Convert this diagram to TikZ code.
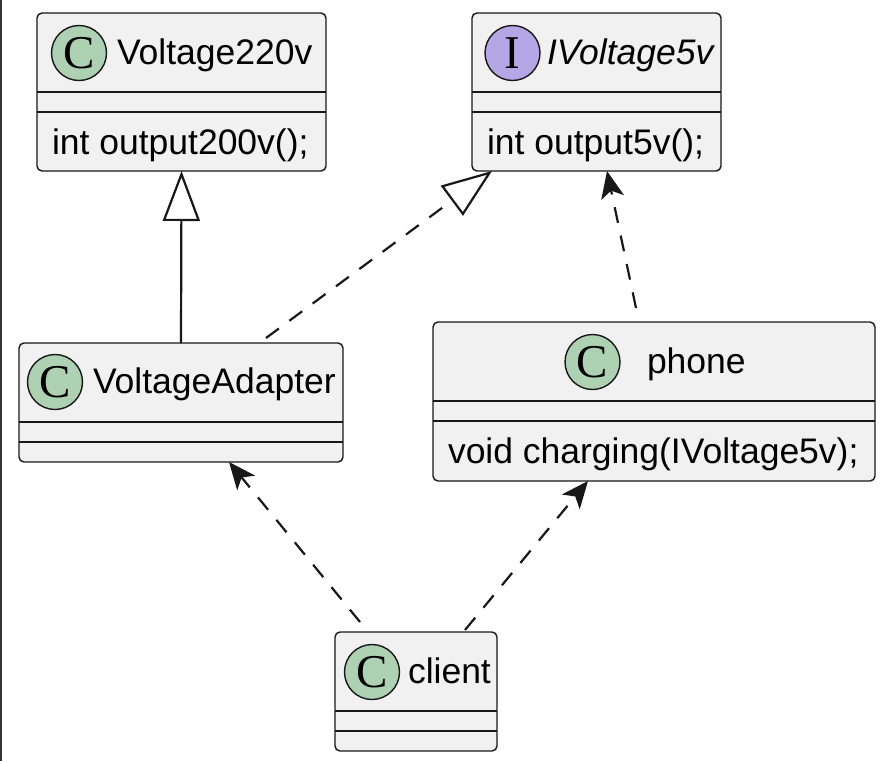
\documentclass[tikz,border=0pt]{standalone}
\usepackage{fontspec}
\setmainfont{Liberation Sans}
\newfontfamily\spotfont{Liberation Serif}
\usetikzlibrary{arrows.meta}
\definecolor{boxfill}{HTML}{F1F1F1}
\definecolor{boxline}{HTML}{181818}
\definecolor{spotgreen}{HTML}{ADD1B2}
\definecolor{spotviolet}{HTML}{B4A7E5}
\begin{document}
\begin{tikzpicture}[x=1pt, y=-1pt,
		every node/.style = {inner sep=0pt, outer sep=0pt},
		classbox/.style = {draw=boxline, fill=boxfill, line width=1.4pt, rounded corners=5pt},
		sepline/.style = {draw=boxline, line width=1.4pt},
		spot/.style = {circle, draw=boxline, line width=1.4pt, minimum size=55pt,
			font=\spotfont\fontsize{47}{47}\selectfont},
		txt/.style = {anchor=base west, font=\fontsize{35.5}{40}\selectfont},
		extends/.style = {draw=boxline, line width=2.2pt, -{Triangle[open, length=50pt, width=37pt, line width=2.2pt]}},
		realizes/.style = {extends, dash pattern=on 16pt off 13pt},
		uses/.style = {draw=boxline, line width=2.2pt, dash pattern=on 16pt off 13pt,
			-{Stealth[length=27pt, width=23pt, inset=7pt]}}]
	\useasboundingbox (0,0) rectangle (885,761);
	\draw[line width=2pt, color=black!80] (1,0) -- (1,761);

	\node[classbox, minimum width=289pt, minimum height=158pt] (v220) at (181.5,92) {};
	\node[spot, fill=spotgreen] (v220spot) at (79,53) {C};
	\node[txt] (v220name) at (117,64) {Voltage220v};
	\node[txt] (v220op) at (52,154) {int output200v();};
	\draw[sepline] ([yshift=-79pt]v220.north west) -- ([yshift=-79pt]v220.north east);
	\draw[sepline] ([yshift=-99pt]v220.north west) -- ([yshift=-99pt]v220.north east);

	\node[classbox, minimum width=249pt, minimum height=158pt] (iv5) at (596.5,92) {};
	\node[spot, fill=spotviolet] (iv5spot) at (512.5,53) {I};
	\node[txt, font=\fontsize{35.5}{40}\selectfont\itshape] (iv5name) at (547,64) {IVoltage5v};
	\node[txt] (iv5op) at (487,154) {int output5v();};
	\draw[sepline] ([yshift=-79pt]iv5.north west) -- ([yshift=-79pt]iv5.north east);
	\draw[sepline] ([yshift=-99pt]iv5.north west) -- ([yshift=-99pt]iv5.north east);

	\node[classbox, minimum width=324pt, minimum height=119pt] (va) at (181,402.5) {};
	\node[spot, fill=spotgreen] (vaspot) at (55,382) {C};
	\node[txt] (vaname) at (93,393) {VoltageAdapter};
	\draw[sepline] ([yshift=-79pt]va.north west) -- ([yshift=-79pt]va.north east);
	\draw[sepline] ([yshift=-99pt]va.north west) -- ([yshift=-99pt]va.north east);

	\node[classbox, minimum width=442pt, minimum height=159pt] (phone) at (654,401.5) {};
	\node[spot, fill=spotgreen] (phonespot) at (592.5,362) {C};
	\node[txt] (phonename) at (647,373) {phone};
	\node[txt] (phoneop) at (448,463) {void charging(IVoltage5v);};
	\draw[sepline] ([yshift=-79pt]phone.north west) -- ([yshift=-79pt]phone.north east);
	\draw[sepline] ([yshift=-99pt]phone.north west) -- ([yshift=-99pt]phone.north east);

	\node[classbox, minimum width=162pt, minimum height=119pt] (client) at (416,691.5) {};
	\node[spot, fill=spotgreen] (clientspot) at (372,672) {C};
	\node[txt] (clientname) at (408,683) {client};
	\draw[sepline] ([yshift=-79pt]client.north west) -- ([yshift=-79pt]client.north east);
	\draw[sepline] ([yshift=-99pt]client.north west) -- ([yshift=-99pt]client.north east);

	\draw[extends] (va.north) -- (v220.south);
	\draw[realizes] ([xshift=85pt, yshift=5pt]va.north) -- ([xshift=-104.5pt]iv5.south);
	\draw[uses] ([xshift=-18pt, yshift=14pt]phone.north) -- ([xshift=10.5pt]iv5.south);
	\draw[uses] ([xshift=-56pt, yshift=10pt]client.north) -- ([xshift=48pt]va.south);
	\draw[uses] ([xshift=49pt, yshift=2pt]client.north) -- ([xshift=-66pt]phone.south);
\end{tikzpicture}
\end{document}
